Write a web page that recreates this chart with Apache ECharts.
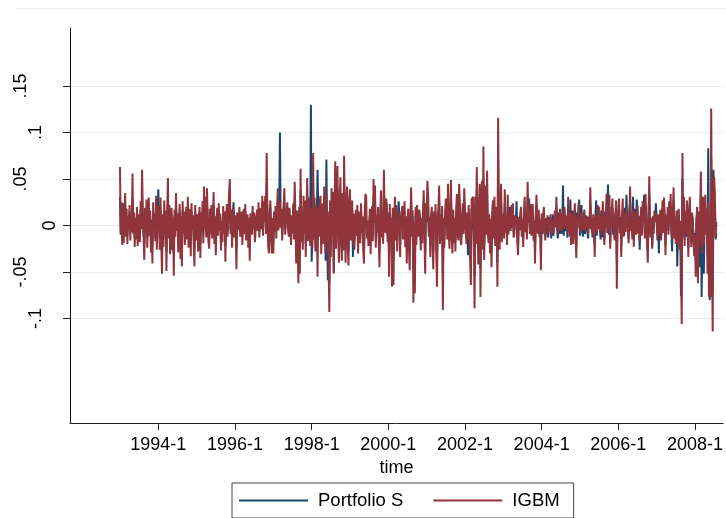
<!DOCTYPE html>
<html>
<head>
<meta charset="utf-8">
<script src="https://cdn.jsdelivr.net/npm/echarts@6/dist/echarts.min.js"></script>
<style>
  html, body { margin: 0; padding: 0; background: #ffffff; }
  #chart { width: 726px; height: 518px; }
</style>
</head>
<body>
<div id="chart"></div>
<script>
// Weekly returns, in percent (0.05 = 5), first week of 1993 onward, 52 weeks per year
const startYear = 1993;
const weeksPerYear = 52;

const portfolioS = [
  // 1993
  3.1,-1.0,2.5,-1.2,1.4,-0.9,0.8,2.2,-0.6,1.0, -1.1,0.5,0.2,1.5,-0.8,0.9,-0.2,3.0,-0.4,0.7, -1.3,0.6,-0.7,1.2,-1.0,0.8,0.4,-0.9,1.6,0.1, 3.4,0.6,-0.5,-2.0,1.1,-0.2,1.7,-1.3,0.5,1.8, -0.4,1.0,-1.5,0.6,-2.2,1.4,0.2,0.9,-1.4,2.0, -1.2,0.7,
  // 1994
  3.9,0.8,-1.5,1.9,-1.2,-3.0,0.9,-1.4,1.6,-0.3, 1.0,-2.8,0.6,3.0,-0.7,1.3,-1.8,0.4,1.2,-1.5, 0.7,-3.1,1.1,-0.6,2.1,-0.2,0.9,-1.6,0.5,1.4, -2.0,0.8,-2.5,1.7,-0.3,1.0,-1.2,0.6,1.3,-0.8, 1.9,-1.3,0.5,1.2,-1.9,1.5,-0.1,0.8,-1.0,-2.5, 1.4,-0.5,
  // 1995
  -0.9,0.8,-1.6,0.6,1.3,-2.0,0.9,-0.3,1.5,-1.0, 2.6,-0.1,1.9,-0.7,2.5,0.4,-0.9,-1.4,1.1,-0.4, 1.4,-0.8,0.5,2.2,-1.1,0.7,-1.8,0.6,1.2,-0.5, 1.5,-0.2,0.9,-1.5,0.4,-1.0,1.3,-0.3,1.0,-2.2, 0.7,1.5,-0.6,0.8,2.2,3.1,-0.4,1.1,-1.3,0.5, 2.5,-0.6,
  // 1996
  0.8,-0.3,-2.4,0.9,1.0,0.1,1.3,-0.6,0.5,1.0, -1.2,0.5,1.1,-0.4,1.5,-0.9,0.4,0.9,-1.4,0.6, -2.0,0.8,0.3,-0.5,1.4,0.0,1.0,-1.0,-1.1,0.7, 1.2,-0.2,1.7,-0.7,0.6,1.3,-0.1,2.1,-0.5,1.8, 0.4,2.2,-0.4,4.6,0.8,-1.3,-1.8,1.0,1.9,-0.8, -1.7,0.6,
  // 1997
  -1.8,1.0,-0.2,1.4,-0.6,0.7,2.5,-0.1,1.5,10.0, -0.2,1.2,-0.9,0.6,1.5,2.4,-0.5,0.5,0.9,1.6, -0.1,-0.8,1.2,0.4,-1.5,0.8,-0.3,1.6,-0.9,2.9, 0.7,-2.6,1.1,-1.4,-3.9,1.3,-3.1,3.8,-1.0,0.9, -1.5,2.1,-0.4,1.8,-2.0,0.9,3.2,-1.0,-1.0,2.0, -1.2,13.0,
  // 1998
  -3.9,-1.0,4.3,-0.6,2.0,-1.5,1.6,0.5,6.0,1.2, -0.8,1.7,2.3,-2.0,0.6,1.5,-1.3,3.0,-0.2,-3.8, 7.1,-1.2,-5.9,-2.8,-6.1,1.8,-2.0,2.5,-0.2,2.4, -5.0,1.2,4.1,-1.6,2.0,4.0,-0.4,-2.6,1.5,3.3, -1.2,-2.4,2.2,-1.7,4.6,0.8,-2.6,1.4,2.7,-1.4, -2.8,1.9,
  // 1999
  2.4,-0.8,0.6,1.6,-3.4,0.9,-1.5,-0.1,1.1,-0.6, 1.3,-1.8,0.4,1.0,-1.1,1.5,-0.4,0.7,-1.6,-2.5, 0.8,2.1,1.9,-0.8,0.3,-1.3,-0.2,1.1,-1.8,0.6, 1.3,-1.0,3.1,0.3,2.6,-1.4,0.7,-0.5,1.2,-0.9, -2.7,0.5,2.3,-0.8,1.0,-1.2,3.7,0.8,-0.5,1.8, 1.4,-1.1,
  // 2000
  0.9,-3.2,1.5,-1.0,0.6,-3.9,1.2,-3.6,-0.2,2.0, -0.9,1.4,-1.7,0.5,2.6,0.9,-2.1,0.6,0.8,1.3, -0.9,0.4,1.6,-1.4,0.6,-2.5,0.2,1.1,-1.6,-2.9, 0.6,2.5,-0.7,1.0,-4.9,0.3,-4.2,1.2,-1.3,1.4, -0.3,-0.7,1.0,0.7,-1.6,0.5,-1.1,0.9,2.3,-0.5, -3.1,1.5,
  // 2001
  0.4,3.0,2.0,-0.7,0.5,-2.1,0.7,1.3,-1.1,-2.9, 0.9,-0.4,1.5,-1.4,-4.1,0.4,1.2,2.7,-1.2,0.7, -1.0,1.3,-5.6,0.5,-1.5,0.8,1.8,1.2,-0.9,2.8, -0.4,-1.6,0.9,3.0,-0.7,-1.9,1.1,-1.2,0.5,-1.7, 0.9,2.1,-0.5,-1.0,2.8,1.6,-1.0,-1.3,0.6,1.5, -0.5,2.5,
  // 2002
  1.0,-0.4,-1.3,0.9,-3.2,1.4,0.2,-2.4,-4.0,1.8, 1.7,1.9,-0.8,-5.4,1.9,-1.2,3.8,0.5,-2.6,1.0, 2.7,-4.6,0.3,2.9,-1.6,5.1,-2.2,0.5,2.6,-0.6, 3.5,-0.5,-1.1,0.7,-1.8,0.4,-2.7,0.9,1.6,-0.8, 1.9,-1.3,0.4,1.2,-4.0,7.0,-0.5,-1.6,1.1,2.7, -1.1,0.8,
  // 2003
  0.3,-0.6,2.4,-0.4,0.9,-1.2,2.0,-0.5,0.6,2.0, -0.3,1.4,0.1,1.6,-0.7,-0.4,0.8,0.5,2.6,-1.0, -2.0,0.6,-0.2,0.9,1.3,-0.6,0.5,-1.3,1.0,2.0, -0.3,0.8,-0.8,3.1,0.4,2.9,-0.4,1.6,-0.6,0.6, 1.5,-0.9,0.4,-2.6,0.7,2.2,-0.2,-0.5,1.2,-0.7, 0.4,-3.0,
  // 2004
  0.9,-0.9,0.5,1.3,-0.8,-1.2,0.5,0.6,0.4,-1.3, 0.9,-0.6,0.8,-1.4,0.2,1.2,-1.1,0.2,1.1,0.5, 2.0,-0.5,-1.4,1.4,-0.9,1.0,0.7,-0.9,0.6,4.3, -1.1,1.3,1.0,-0.6,0.5,-1.3,2.2,1.0,-0.8,2.8, -1.4,0.3,1.6,-1.3,0.8,1.5,-1.0,-2.2,1.4,0.4, 1.6,2.8,
  // 2005
  -1.1,0.5,2.2,-0.3,-1.2,1.0,0.8,-0.9,1.1,0.4, 0.5,-1.4,0.9,0.3,2.3,-0.4,0.8,-1.3,0.7,0.9, -2.2,1.2,2.7,-1.1,1.6,0.3,1.2,-0.3,-1.5,1.6, -1.3,1.7,0.8,-1.6,1.5,-0.2,2.1,1.0,4.4,-1.0, 2.0,-1.8,1.1,0.3,1.9,-1.0,1.0,-1.4,1.3,1.6, -4.0,0.9,
  // 2006
  1.0,1.8,-0.3,0.9,-2.2,1.2,1.7,-0.5,-1.1,1.9, -0.2,3.3,0.6,0.1,-1.4,1.5,2.5,0.3,0.5,-0.6, 3.1,-1.5,0.5,1.8,-0.4,2.8,1.3,-0.5,1.0,-2.6, 0.6,1.4,-0.6,1.9,0.8,3.3,-0.8,2.2,0.6,-1.3, -2.6,0.9,3.4,-0.3,-1.2,0.6,-2.3,0.8,-0.4,1.1, 0.8,2.4,
  // 2007
  0.5,-1.0,0.8,-3.0,0.7,1.2,-1.1,0.5,1.8,-0.4, 2.1,0.7,-2.1,0.9,-0.2,1.4,-0.6,1.8,0.4,2.3, -0.5,-2.8,0.9,2.8,-0.9,0.6,-1.3,1.1,-4.4,0.3, 1.2,-1.7,0.4,-7.6,-6.5,5.0,-0.8,2.2,-1.5,1.0, -1.2,1.9,0.5,-2.4,0.9,2.2,-0.3,-1.6,1.0,0.5, -1.2,-2.2,
  // 2008
  -0.8,-3.6,0.6,1.1,-4.0,0.9,-1.5,-4.5,3.2,-7.7, -1.8,1.8,-5.2,0.5,1.9,0.1,1.0,-3.3,8.3,-4.6, -8.0,-4.9,7.2,-1.4,-7.0,6.0,3.1,2.0,-1.5,-0.8
];

const igbm = [
  // 1993
  6.3,-0.8,1.5,-2.1,2.4,-1.9,0.6,3.5,-1.2,1.8, -2.0,0.9,-0.5,2.2,-1.6,1.1,-0.7,5.6,-0.9,1.4, -2.3,0.8,-1.5,2.0,-2.2,1.2,0.3,-1.8,2.6,-0.4, 6.0,0.5,-1.3,-3.7,1.9,-0.6,2.8,-2.4,0.7,3.0, -1.1,1.6,-2.9,0.4,-4.1,2.5,-0.3,1.3,-1.7,3.2, -2.6,0.9,
  // 1994
  2.1,1.4,-2.6,3.0,-1.8,-5.2,1.2,-2.3,2.7,-0.9, 1.6,-4.9,0.8,5.1,-1.4,2.2,-3.1,0.5,1.9,-2.7, 0.9,-5.4,1.7,-1.2,3.5,-0.6,1.3,-2.9,0.4,2.3, -3.6,1.0,-4.4,2.6,-0.8,1.5,-2.1,0.7,2.0,-1.5, 3.1,-2.4,0.6,1.8,-3.3,2.4,-0.5,1.1,-1.9,-4.4, 2.2,-1.0,
  // 1995
  -1.6,1.2,-2.8,0.9,2.0,-3.5,1.4,-0.7,2.6,-1.9, 4.2,-0.4,3.1,-1.3,4.0,0.6,-1.7,-2.5,1.8,-0.9, 2.2,-1.4,0.7,3.6,-2.0,1.0,-3.2,0.8,1.9,-1.1, 2.4,-0.6,1.3,-2.7,0.5,-1.8,2.1,-0.8,1.5,-3.9, 0.9,2.3,-1.2,1.0,3.5,5.0,-0.9,1.7,-2.4,0.6, 2.0,-1.3,
  // 1996
  1.1,-0.8,-4.7,1.4,1.6,-0.5,2.0,-1.2,0.7,1.5, -2.1,0.4,1.8,-0.9,2.3,-1.6,0.6,1.2,-2.4,0.8, -3.8,1.3,0.2,-1.0,2.1,-0.3,1.4,-1.8,-2.0,0.9, 1.7,-0.6,2.5,-1.3,0.8,1.9,-0.4,3.2,-1.1,2.6, 0.5,3.2,-0.9,7.8,1.0,-2.2,-3.0,1.4,2.7,-1.5, -3.0,0.8,
  // 1997
  -3.0,1.5,-0.7,2.1,-1.4,0.9,4.0,-0.5,1.2,2.6, -0.2,1.8,-1.6,0.7,2.2,4.0,-1.0,0.6,1.3,2.5, -0.4,-1.2,1.9,0.3,-2.1,1.1,-0.8,2.4,-1.5,4.7, 0.8,-4.1,1.6,-2.3,-6.2,2.0,-5.2,6.1,-1.8,1.4, -2.6,3.2,-0.9,2.7,-3.4,1.2,5.1,-1.7,0.6,3.0, -2.2,1.8,
  // 1998
  1.2,-2.4,7.8,-1.5,3.0,-2.8,2.2,0.4,-5.5,1.9, -1.2,2.6,3.2,-3.1,0.8,2.4,-2.0,4.2,-0.6,-2.9, 3.3,-1.8,1.5,-4.6,-9.3,2.7,-3.4,4.0,-1.1,3.6, -5.2,1.8,6.9,-2.5,3.1,6.4,-0.7,-4.0,2.4,5.2, -1.9,-3.8,3.5,-2.7,7.5,1.3,-4.0,2.1,4.2,-2.2, -4.3,2.8,
  // 1999
  3.9,-1.6,0.9,2.7,-2.0,1.3,-2.6,-0.3,1.7,-1.1, 2.2,-3.0,0.6,1.5,-1.9,2.4,-0.8,1.0,-2.7,-4.1, 1.2,3.4,3.1,-1.4,0.5,-2.2,-0.4,1.8,-3.1,0.9, 2.1,-1.7,5.0,0.4,4.3,-2.4,1.1,-0.8,2.0,-1.5, -4.5,0.7,3.8,-1.3,1.6,-2.0,6.0,1.2,-0.8,2.9, 2.3,-1.8,
  // 2000
  1.4,-5.5,2.3,-1.7,0.8,-6.6,1.9,-6.4,-0.5,3.1, -1.6,2.2,-2.8,0.7,-0.6,1.5,-3.4,0.9,1.3,2.1, -1.5,0.6,2.6,-2.3,1.0,-4.1,0.3,1.8,-2.5,-4.8, 0.9,4.1,-1.2,1.6,-8.3,0.4,-7.3,2.0,-2.1,2.2, -0.6,-1.2,1.7,1.1,-2.7,0.8,-1.9,1.4,3.8,-0.9, -5.2,2.4,
  // 2001
  0.7,4.8,3.3,-1.2,0.9,-3.4,1.1,2.0,-1.8,-4.7, 1.5,-0.8,2.3,-2.2,-6.6,0.6,1.9,4.3,-2.0,1.2, -1.6,2.1,-9.1,0.8,-2.4,1.3,2.9,2.0,-1.5,4.5, -0.7,-2.5,1.4,4.9,-1.2,-3.0,1.7,-1.9,0.8,-2.8, 1.5,3.4,-0.9,-1.6,4.5,2.6,-1.6,-2.1,1.0,2.4, -0.9,4.0,
  // 2002
  1.8,-0.6,-2.0,1.4,-1.5,2.2,0.3,-3.7,-6.4,2.8, 2.9,3.1,-1.3,-8.9,3.1,-2.0,6.3,0.9,-4.2,1.6, 4.5,-7.7,0.5,4.8,-2.6,8.5,-3.7,0.8,4.3,-1.0, 5.9,-0.8,-1.9,1.2,-3.0,0.7,-4.5,1.5,2.7,-1.4, 3.1,-2.2,0.6,2.0,-6.6,11.6,-0.9,-2.6,1.9,4.5, -1.8,1.3,
  // 2003
  0.5,-1.4,3.9,-0.8,1.2,-2.1,3.3,-1.0,0.7,1.4, -0.6,2.2,-0.2,2.4,-1.3,-0.9,1.1,0.4,1.0,-1.7, -3.2,0.9,-0.5,1.3,2.0,-1.2,0.6,-2.3,1.5,3.1, -0.7,1.2,-1.5,4.7,0.3,1.6,-0.9,2.3,-1.1,0.8, 2.3,-1.6,0.5,-4.1,1.0,3.3,-0.4,-0.9,1.7,-1.2, 0.6,-4.8,
  // 2004
  1.3,-0.7,0.9,2.0,-0.4,-1.6,0.8,0.3,1.1,-0.9, 0.6,-0.3,1.2,-1.1,-0.3,0.7,-0.8,0.5,1.6,-0.2, 3.1,0.4,-0.9,1.0,-0.5,1.8,0.2,-0.6,1.3,0.9, -0.4,2.0,0.5,-0.2,1.1,-0.8,3.1,0.4,-1.2,1.5, -2.1,0.8,1.2,-2.0,0.3,2.4,-0.6,-3.5,0.9,-0.3, 2.4,1.1,
  // 2005
  0.4,-0.8,1.3,0.2,-0.5,0.9,1.7,-0.6,0.8,-0.2, 1.0,-0.9,0.5,-0.3,4.1,0.6,-0.4,-0.9,1.2,0.3, -3.4,0.8,1.1,-0.7,2.2,-0.4,2.0,0.5,-1.0,0.9, -0.6,2.6,0.2,-2.1,1.0,0.4,3.4,-0.8,1.2,-0.5, 3.3,-2.5,0.7,1.1,2.9,-0.3,0.6,-1.6,0.9,2.7, -6.8,1.2,
  // 2006
  1.6,2.9,-0.8,0.5,-3.4,0.9,2.9,-1.2,-0.4,1.3, -0.7,1.8,0.4,-0.3,-1.9,1.0,4.2,-0.6,0.0,-1.5, 1.7,-2.3,0.9,1.4,-1.0,0.6,2.2,-0.9,0.7,-1.7, 0.3,2.0,-1.1,2.6,0.5,1.1,-1.4,3.4,0.2,-2.0, -4.0,1.2,5.3,-0.5,-1.3,0.8,-2.5,1.0,-0.9,1.6, 0.4,1.2,
  // 2007
  0.8,-1.6,1.2,-0.9,0.5,1.7,-1.6,0.3,2.7,-0.8, 3.0,0.6,-3.2,1.1,-0.5,2.0,-1.0,2.6,0.2,3.4, -0.7,-1.5,1.3,4.1,-1.4,0.9,-2.0,1.6,-1.9,0.4, 1.8,-2.6,0.5,-3.5,-10.6,7.8,-1.2,3.1,-2.2,1.5, -0.8,2.7,0.6,-3.4,1.2,3.1,-0.5,-2.3,1.4,0.7, -1.8,-3.3,
  // 2008
  -1.2,-5.5,0.8,2.0,-6.2,1.5,-2.4,1.0,5.8,-1.6, -3.0,3.1,-2.1,0.9,3.3,-1.0,1.8,-5.2,2.5,-7.7, 1.2,-7.7,12.6,-2.0,-11.4,2.8,5.2,3.5,-1.3,0.4
];

const seriesNames = ['Portfolio S', 'IGBM'];
const seriesColors = ['#1a476f', '#90353b'];

const xTickValues = [1994, 1996, 1998, 2000, 2002, 2004, 2006, 2008];
const xTickLabels = ['1994-1', '1996-1', '1998-1', '2000-1', '2002-1', '2004-1', '2006-1', '2008-1'];
const yTickValues = [-10, -5, 0, 5, 10, 15];
const yTickLabels = ['-.1', '-.05', '0', '.05', '.1', '.15'];

const toPairs = arr => arr.map((v, i) => [startYear + i / weeksPerYear, v]);

const FONT = '"Liberation Sans", Arial, Helvetica, sans-serif';
const chart = echarts.init(document.getElementById('chart'), null, { renderer: 'canvas' });

function yLabelStyle(label) {
  const decimals = label.indexOf('.') >= 0 ? label.split('.')[1].length : 0;
  return 'd' + decimals;
}

chart.setOption({
  animation: false,
  backgroundColor: '#ffffff',
  textStyle: { fontFamily: FONT },
  graphic: [{
    type: 'line',
    shape: { x1: 16, y1: 8.5, x2: 726, y2: 8.5 },
    style: { stroke: '#e3ecef', lineWidth: 1 },
    silent: true
  }],
  grid: { left: 70, right: 0, top: 28, bottom: 95, containLabel: false },
  xAxis: {
    type: 'value',
    min: 1991.696,
    max: 2008.735,
    name: 'time',
    nameLocation: 'middle',
    nameGap: 28,
    nameTextStyle: { fontSize: 18, color: '#000', fontFamily: FONT },
    axisLine: { show: true, onZero: false, lineStyle: { color: '#222', width: 1 } },
    axisTick: { show: true, length: 7, customValues: xTickValues, lineStyle: { color: '#222' } },
    axisLabel: {
      customValues: xTickValues,
      margin: 13,
      fontSize: 18,
      color: '#000',
      fontFamily: FONT,
      formatter: v => xTickLabels[xTickValues.indexOf(v)]
    },
    splitLine: { show: false }
  },
  yAxis: {
    type: 'value',
    min: -21.25,
    max: 21.25,
    axisLine: { show: true, onZero: false, lineStyle: { color: '#111', width: 1 } },
    axisTick: { show: true, length: 7, customValues: yTickValues, lineStyle: { color: '#222' } },
    axisLabel: {
      customValues: yTickValues,
      rotate: 90,
      margin: 11,
      fontSize: 18,
      color: '#000',
      fontFamily: FONT,
      formatter: v => {
        const lab = yTickLabels[yTickValues.indexOf(v)];
        return '{' + yLabelStyle(lab) + '|' + lab + '}';
      },
      rich: {
        d0: { fontSize: 18, color: '#000', fontFamily: FONT, padding: [0, 0, 0, 0] },
        d1: { fontSize: 18, color: '#000', fontFamily: FONT, padding: [0, 0, 14, 0] },
        d2: { fontSize: 18, color: '#000', fontFamily: FONT, padding: [0, 0, 29, 0] }
      }
    },
    splitLine: { show: true, lineStyle: { color: '#e3ecef', width: 1 } }
  },
  legend: {
    left: 232,
    top: 483,
    orient: 'horizontal',
    data: seriesNames,
    icon: 'rect',
    itemWidth: 69,
    itemHeight: 2,
    itemGap: 30,
    padding: [8, 14, 8, 7],
    borderColor: '#444',
    borderWidth: 1,
    textStyle: { fontSize: 18.5, color: '#000', fontFamily: FONT, padding: [0, 0, 0, 5] }
  },
  series: [
    {
      name: seriesNames[0],
      type: 'line',
      data: toPairs(portfolioS),
      symbol: 'none',
      color: seriesColors[0],
      lineStyle: { color: seriesColors[0], width: 2 },
      z: 2
    },
    {
      name: seriesNames[1],
      type: 'line',
      data: toPairs(igbm),
      symbol: 'none',
      color: seriesColors[1],
      lineStyle: { color: seriesColors[1], width: 2 },
      z: 3
    }
  ]
});
</script>
</body>
</html>
